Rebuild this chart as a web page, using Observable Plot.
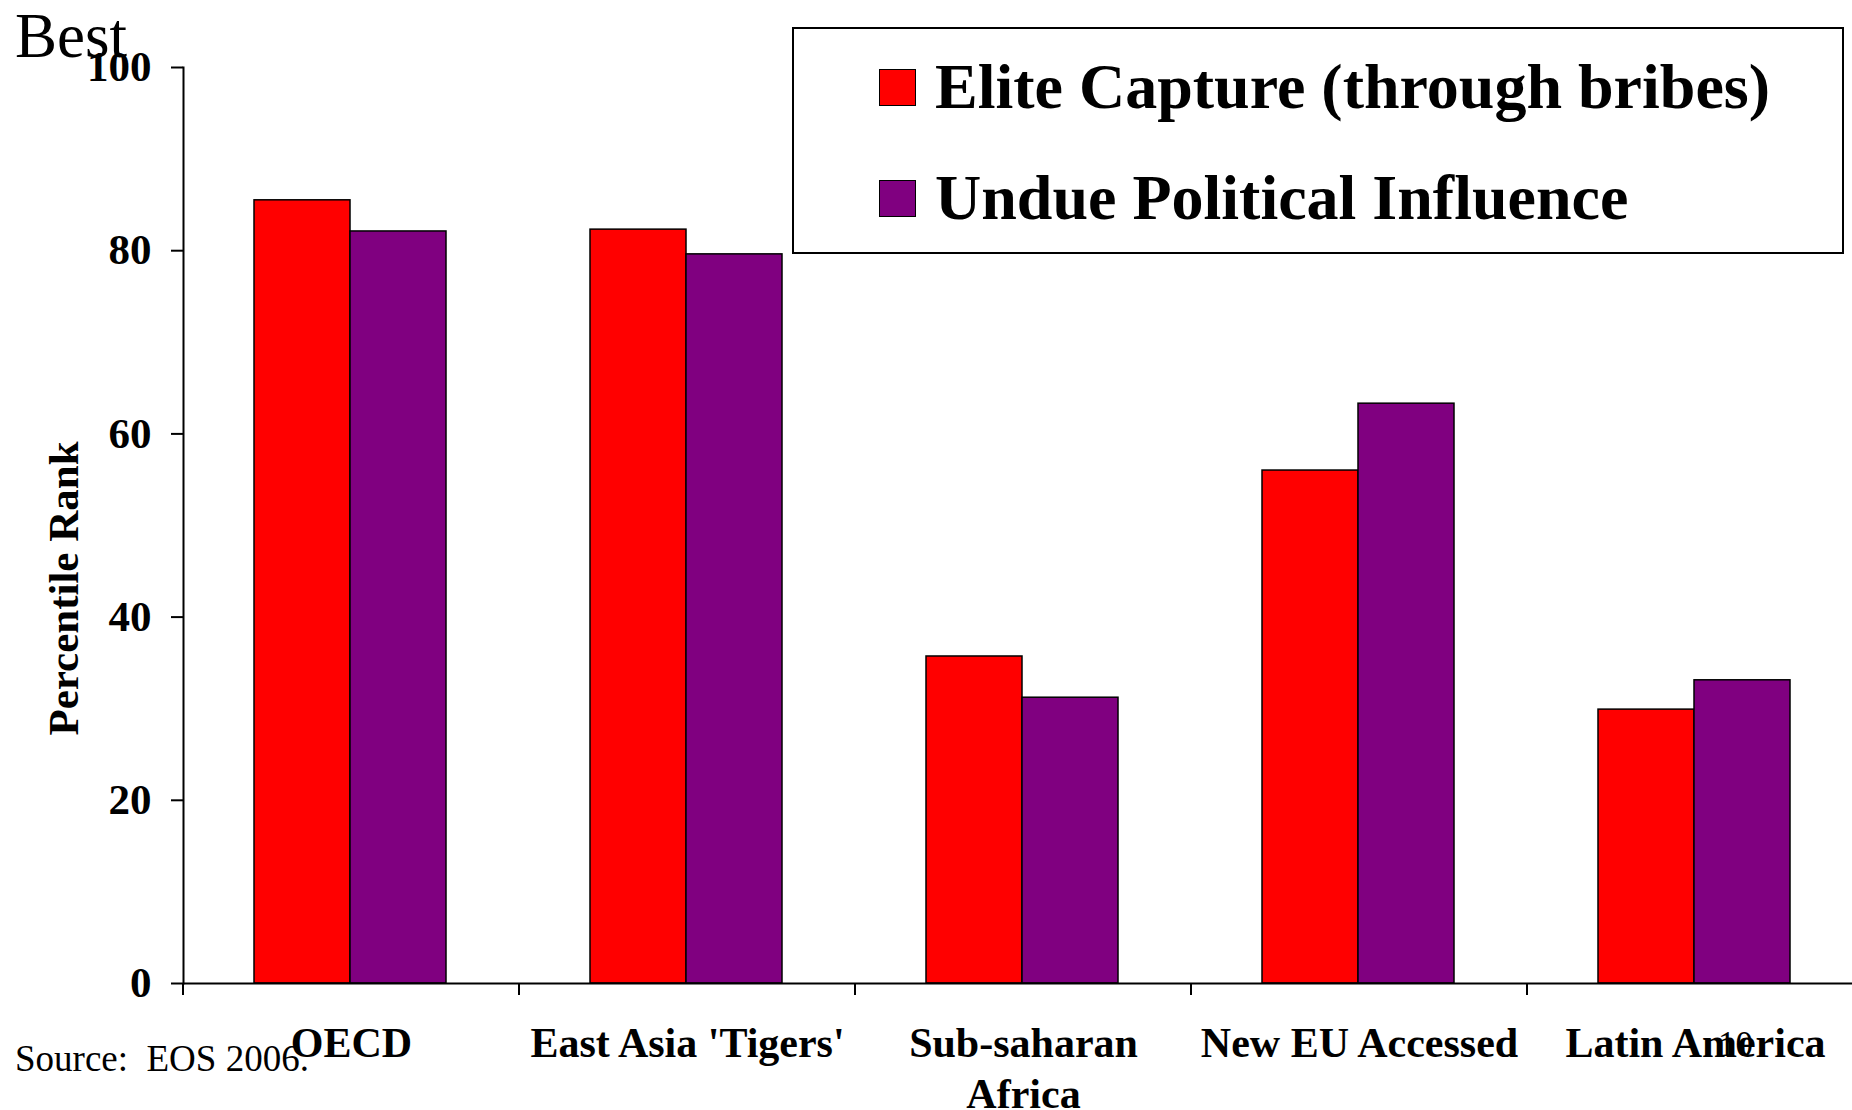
<!DOCTYPE html>
<html><head><meta charset="utf-8">
<script src="https://cdn.jsdelivr.net/npm/d3@7"></script>
<script src="https://cdn.jsdelivr.net/npm/@observablehq/plot@0.6"></script>
<style>
html,body{margin:0;padding:0;background:#fff;overflow:hidden;width:1852px;height:1110px;}
#wrap{position:relative;width:1852px;height:1110px;overflow:hidden;font-family:"Liberation Serif","Times New Roman",serif;color:#000;}
#chart{position:absolute;left:0;top:0;width:1863px;}
#chart svg{max-width:none !important;}
.ov{position:absolute;white-space:pre;line-height:1;}
#best{left:15px;top:5px;font-size:63px;}
#source{left:15px;top:1040px;font-size:37px;}
#pagenum{left:1718px;top:1027px;font-size:35px;}
#legend{position:absolute;left:792px;top:27px;width:1048px;height:223px;border:2px solid #000;background:#fff;}
.item{position:absolute;left:85px;display:flex;align-items:center;}
.sw{width:35px;height:35px;border:1px solid #000;margin-right:19px;}
.lt{font-size:64px;font-weight:bold;line-height:1;}
</style></head><body><div id="wrap"><div id="chart"></div></div>
<script>
const regions = ["OECD", "East Asia 'Tigers'", "Sub-saharan\nAfrica", "New EU Accessed", "Latin America"];
const eliteCapture = [85.5, 82.3, 35.7, 56.0, 29.9];
const undueInfluence = [82.1, 79.6, 31.2, 63.3, 33.1];
const seriesNames = ["Elite Capture (through bribes)", "Undue Political Influence"];
const seriesColors = ["#ff0000", "#800080"];
const yTicks = [0, 20, 40, 60, 80, 100];

const eliteRows = regions.map((r, i) => ({region: r, value: eliteCapture[i]}));
const undueRows = regions.map((r, i) => ({region: r, value: undueInfluence[i]}));

const plot = Plot.plot({
  width: 1863, height: 1110,
  marginLeft: 183, marginRight: 0, marginTop: 67, marginBottom: 127,
  style: {fontFamily: "'Liberation Serif', 'Times New Roman', serif", background: "transparent", overflow: "visible", color: "#000", maxWidth: "none"},
  x: {domain: regions, padding: 0},
  y: {domain: [0, 100]},
  marks: [
    Plot.barY(eliteRows, {x: "region", y: "value", fill: seriesColors[0], stroke: "#000", strokeWidth: 1.5, insetLeft: 71, insetRight: 169}),
    Plot.barY(undueRows, {x: "region", y: "value", fill: seriesColors[1], stroke: "#000", strokeWidth: 1.5, insetLeft: 167, insetRight: 73}),
    Plot.ruleY([0], {stroke: "#000", strokeWidth: 2}),
    Plot.frame({anchor: "left", stroke: "#000", strokeWidth: 2}),
    Plot.axisY({ticks: yTicks, tickSize: 12, tickPadding: 20, strokeWidth: 2, fontSize: 43, fontWeight: "bold", label: null}),
    Plot.axisX({tickSize: 0, tickPadding: 38, fontSize: 42, fontWeight: "bold", label: null, lineHeight: 1.2}),
    Plot.text(["Percentile Rank"], {text: d => d, frameAnchor: "left", textAnchor: "middle", rotate: -90, dx: -119, dy: 63, fontSize: 43, fontWeight: "bold"})
  ]
});

// category boundary ticks on the x axis, computed from the band scale
const xs = plot.scale("x");
const ys = plot.scale("y");
const step = xs.step ?? ((xs.range[1] - xs.range[0]) / xs.domain.length);
const bounds = xs.domain.map(d => xs.apply(d)).concat([xs.apply(xs.domain[xs.domain.length - 1]) + step]);
const y0 = ys.apply(0);
d3.select(plot).append("g").attr("stroke", "#000").attr("stroke-width", 2)
  .selectAll("line").data(bounds).join("line")
  .attr("x1", d => d).attr("x2", d => d).attr("y1", y0).attr("y2", y0 + 12);

document.getElementById("chart").appendChild(plot);

const wrap = document.getElementById("wrap");
function addText(id, txt) {
  const el = document.createElement("div");
  el.className = "ov"; el.id = id; el.textContent = txt;
  wrap.appendChild(el);
}
addText("best", "Best");
addText("source", "Source:  EOS 2006.");
addText("pagenum", "10");

const legend = document.createElement("div");
legend.id = "legend";
seriesNames.forEach((name, i) => {
  const it = document.createElement("div");
  it.className = "item";
  it.style.top = (i === 0 ? 26 : 137) + "px";
  const sw = document.createElement("div");
  sw.className = "sw"; sw.style.background = seriesColors[i];
  const t = document.createElement("span");
  t.className = "lt"; t.textContent = name;
  it.appendChild(sw); it.appendChild(t);
  legend.appendChild(it);
});
wrap.appendChild(legend);
</script>
</body></html>
